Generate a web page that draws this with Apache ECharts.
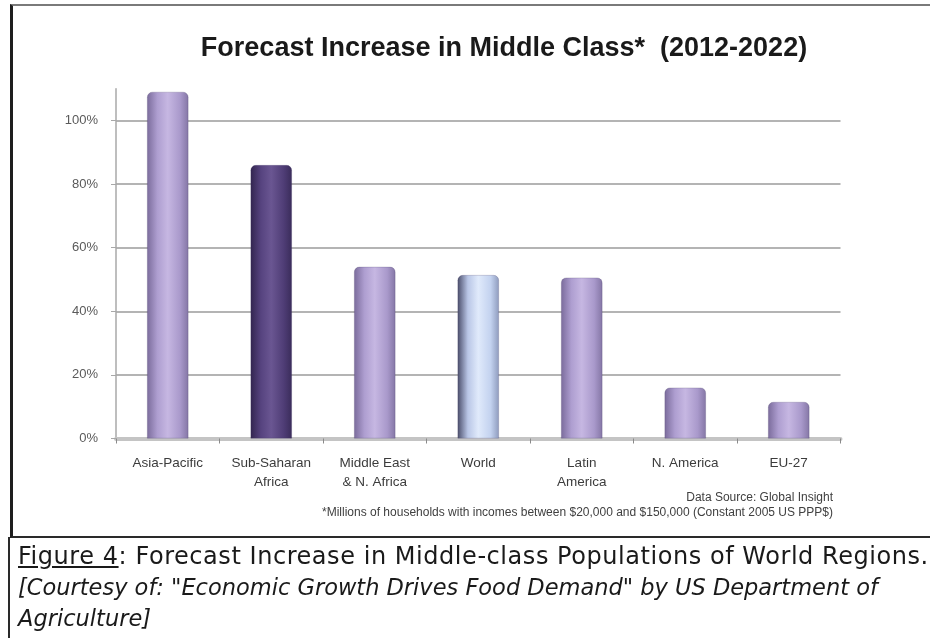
<!DOCTYPE html>
<html>
<head>
<meta charset="utf-8">
<script src="https://cdn.jsdelivr.net/npm/echarts@6/dist/echarts.min.js"></script>
<style>
  html, body { margin: 0; padding: 0; background: #fff; }
  #wrap { position: relative; width: 930px; height: 638px; overflow: hidden; }
  #chart { position: absolute; left: 0; top: 0; width: 930px; height: 638px; }
  #frame {
    position: absolute; left: 10px; top: 4px; width: 940px; height: 530px;
    border-left: 3px solid #1e1e1e; border-top: 2px solid #7a7a7a; border-bottom: 2px solid #2a2a2a;
    pointer-events: none;
  }
  #capbox { position: absolute; left: 8px; top: 537px; height: 101px; border-left: 2px solid #2a2a2a; }
  #caption {
    position: absolute; left: 18px; top: 541px; width: 1100px;
    font-family: "DejaVu Sans", sans-serif; color: #1a1a1a;
    white-space: nowrap;
  }
  #caption .l1 { font-size: 24px; line-height: 31px; letter-spacing: 0.55px; }
  #caption .l2 { font-size: 22.5px; line-height: 31px; font-style: oblique; }
</style>
</head>
<body>
<div id="wrap">
  <div id="chart"></div>
  <div id="frame"></div>
  <div id="capbox"></div>
  <div id="caption">
    <div class="l1"><u>Figure 4</u>: Forecast Increase in Middle-class Populations of World Regions.</div>
    <div class="l2">[Courtesy of: "Economic Growth Drives Food Demand" by US Department of</div>
    <div class="l2">Agriculture]</div>
  </div>
</div>
<script>
// 地区
var regions = ["Asia-Pacific", "Sub-Saharan\nAfrica", "Middle East\n& N. Africa", "World", "Latin\nAmerica", "N. America", "EU-27"];
// 增长百分比
var increase = [109, 86, 54, 51.4, 50.6, 16, 11.5];
// 纵轴刻度
var yTicks = [0, 20, 40, 60, 80, 100];
// 每根柱子的配色: 浅紫 / 深紫 / 浅蓝
var barKind = ["light", "dark", "light", "blue", "light", "light", "light"];

var palette = {
  light: ["#7a6b9b", "#ae9ed0", "#c6b7e2", "#a999cb", "#8476a5"],
  dark: ["#32254f", "#56437f", "#6a5692", "#4f3d76", "#3a2c5a"],
  blue: ["#4a4d6a", "#b9c6e6", "#e0eafb", "#c3d2ef", "#8e9bbd"]
};

function cylinder(kind) {
  var c = palette[kind];
  return new echarts.graphic.LinearGradient(0, 0, 1, 0, [
    { offset: 0, color: c[0] },
    { offset: 0.25, color: c[1] },
    { offset: 0.5, color: c[2] },
    { offset: 0.8, color: c[3] },
    { offset: 1, color: c[4] }
  ]);
}

var chart = echarts.init(document.getElementById("chart"));

var option = {
  animation: false,
  title: [
    {
      text: "Forecast Increase in Middle Class*  (2012-2022)",
      left: 499,
      top: 30,
      textAlign: "center",
      textStyle: { fontFamily: "Liberation Sans, sans-serif", fontSize: 27, fontWeight: "bold", color: "#1a1a1a" }
    },
    {
      text: "Data Source: Global Insight",
      right: 92,
      top: 487,
      textStyle: { fontFamily: "Liberation Sans, sans-serif", fontSize: 12, fontWeight: "normal", color: "#404040" }
    },
    {
      text: "*Millions of households with incomes between $20,000 and $150,000 (Constant 2005 US PPP$)",
      right: 92,
      top: 502,
      textStyle: { fontFamily: "Liberation Sans, sans-serif", fontSize: 12, fontWeight: "normal", color: "#404040" }
    }
  ],
  grid: { left: 116, right: 89.5, top: 88.7, bottom: 199.5 },
  xAxis: {
    type: "category",
    data: regions,
    axisLine: { lineStyle: { color: "#c4c4c4", width: 4 } },
    axisTick: { show: true, length: 5, lineStyle: { color: "#8a8a8a" } },
    axisLabel: {
      interval: 0,
      margin: 15,
      lineHeight: 19,
      fontFamily: "Liberation Sans, sans-serif",
      fontSize: 13.5,
      color: "#3c3c3c"
    }
  },
  yAxis: {
    type: "value",
    min: 0,
    max: 110,
    interval: 20,
    axisLine: { show: true, lineStyle: { color: "#a8a8a8", width: 1.5 } },
    axisTick: { show: true, length: 5, lineStyle: { color: "#a8a8a8" } },
    axisLabel: {
      margin: 18,
      showMaxLabel: false,
      fontFamily: "Liberation Sans, sans-serif",
      fontSize: 13,
      color: "#5a5a5a",
      formatter: function (v) { return yTicks.indexOf(v) >= 0 ? v + "%" : ""; }
    },
    splitLine: { show: true, showMaxLine: false, lineStyle: { color: "#b4b4b4", width: 2 } }
  },
  series: [
    {
      type: "bar",
      barWidth: "40%",
      data: increase.map(function (v, i) {
        return {
          value: v,
          itemStyle: { color: cylinder(barKind[i]), borderRadius: [5, 5, 0, 0], borderColor: "rgba(60,50,90,0.35)", borderWidth: 0.6 }
        };
      })
    }
  ]
};

chart.setOption(option);
window.onresize = chart.resize;
</script>
</body>
</html>
